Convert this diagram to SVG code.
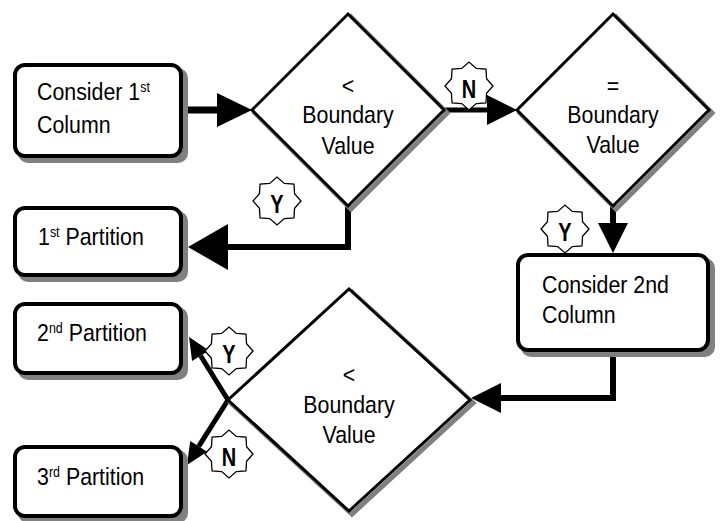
<svg xmlns="http://www.w3.org/2000/svg" xmlns:xlink="http://www.w3.org/1999/xlink" width="722" height="521" viewBox="0 0 722 521">
  <style>
    .box { fill: #fff; stroke: #000; stroke-width: 4; }
    .bshadow { fill: #808080; stroke: none; }
    .dia { fill: #fff; stroke: #000; stroke-width: 3; stroke-linejoin: miter; }
    .dshadow { fill: none; stroke: #808080; stroke-width: 5; }
    .t { font-family: "Liberation Sans", Arial, sans-serif; font-size: 24px; fill: #000; }
    .c { text-anchor: middle; }
    .sup { font-size: 14px; }
    .star { fill: #fff; stroke: #000; stroke-width: 1.3; }
    .sl { font-family: "Liberation Sans", Arial, sans-serif; font-size: 25px; font-weight: bold; text-anchor: middle; fill: #000; }
    .conn { fill: none; stroke: #000; stroke-linejoin: miter; }
  </style>
  <defs>
    <marker id="ab1" markerUnits="userSpaceOnUse" orient="auto" refX="0" refY="0" markerWidth="40" markerHeight="40" overflow="visible">
      <path d="M0,-17 L35,0 L0,17 Z" fill="#000"/>
    </marker>
    <marker id="ab2" markerUnits="userSpaceOnUse" orient="auto" refX="0" refY="0" markerWidth="44" markerHeight="50" overflow="visible">
      <path d="M0,-23 L40,0 L0,23 Z" fill="#000"/>
    </marker>
    <marker id="am" markerUnits="userSpaceOnUse" orient="auto" refX="0" refY="0" markerWidth="32" markerHeight="32" overflow="visible">
      <path d="M0,-15 L30,0 L0,15 Z" fill="#000"/>
    </marker>
    <marker id="as" markerUnits="userSpaceOnUse" orient="auto" refX="0" refY="0" markerWidth="24" markerHeight="24" overflow="visible">
      <path d="M0,-10 L22,0 L0,10 Z" fill="#000"/>
    </marker>
    <path id="star" d="M24,0 L17.55,7.27 L16.97,16.97 L7.27,17.55 L0,24 L-7.27,17.55 L-16.97,16.97 L-17.55,7.27 L-24,0 L-17.55,-7.27 L-16.97,-16.97 L-7.27,-17.55 L0,-24 L7.27,-17.55 L16.97,-16.97 L17.55,-7.27 Z"/>
  </defs>

  <!-- connectors -->
  <g id="connectors">
    <path class="conn" d="M183,110 H217" stroke-width="7" marker-end="url(#ab1)"/>
    <path class="conn" d="M445,110 H487" stroke-width="5" marker-end="url(#am)"/>
    <path class="conn" d="M348,206 V247 H228" stroke-width="6" marker-end="url(#ab2)"/>
    <path class="conn" d="M613,206 V223" stroke-width="6" marker-end="url(#am)"/>
    <path class="conn" d="M613,352 V398 H501" stroke-width="6" marker-end="url(#am)"/>
    <path class="conn" d="M228,400 L200.6,355.7" stroke-width="5" marker-end="url(#as)"/>
    <path class="conn" d="M228,400 L198.7,446.4" stroke-width="5" marker-end="url(#as)"/>
  </g>

  <!-- boxes -->
  <g id="consider1">
    <rect class="bshadow" x="18" y="68" width="170" height="95" rx="10"/>
    <rect class="box" x="15" y="65" width="166" height="91" rx="10"/>
    <text class="t" transform="translate(37,100) scale(0.89,1)">Consider 1<tspan class="sup" dy="-8">st</tspan></text>
    <text class="t" transform="translate(37,133) scale(0.89,1)">Column</text>
  </g>

  <g id="part1">
    <rect class="bshadow" x="18" y="211" width="170" height="71" rx="10"/>
    <rect class="box" x="15" y="208" width="166" height="67" rx="10"/>
    <text class="t" transform="translate(38,245) scale(0.89,1)">1<tspan class="sup" dy="-8">st</tspan><tspan dy="8"> Partition</tspan></text>
  </g>

  <g id="part2">
    <rect class="bshadow" x="18" y="307" width="170" height="73" rx="10"/>
    <rect class="box" x="15" y="304" width="166" height="69" rx="10"/>
    <text class="t" transform="translate(37,341) scale(0.89,1)">2<tspan class="sup" dy="-8">nd</tspan><tspan dy="8"> Partition</tspan></text>
  </g>

  <g id="part3">
    <rect class="bshadow" x="18" y="450" width="170" height="73" rx="10"/>
    <rect class="box" x="15" y="447" width="166" height="69" rx="10"/>
    <text class="t" transform="translate(37,485) scale(0.89,1)">3<tspan class="sup" dy="-8">rd</tspan><tspan dy="8"> Partition</tspan></text>
  </g>

  <g id="consider2">
    <rect class="bshadow" x="521" y="258" width="194" height="99" rx="10"/>
    <rect class="box" x="518" y="255" width="190" height="95" rx="10"/>
    <text class="t" transform="translate(542,293) scale(0.89,1)">Consider 2nd</text>
    <text class="t" transform="translate(542,323) scale(0.89,1)">Column</text>
  </g>

  <!-- diamonds -->
  <g id="decision1">
    <polygon class="dshadow" points="351,17 447,113 351,209 255,113"/>
    <polygon class="dia" points="348,14 444,110 348,206 252,110"/>
    <text class="t c" transform="translate(348,94) scale(0.89,1)">&lt;</text>
    <text class="t c" transform="translate(348,123) scale(0.89,1)">Boundary</text>
    <text class="t c" transform="translate(348,154) scale(0.89,1)">Value</text>
  </g>

  <g id="decision2">
    <polygon class="dshadow" points="616,17 712,113 616,209 520,113"/>
    <polygon class="dia" points="613,14 709,110 613,206 517,110"/>
    <text class="t c" transform="translate(613,94) scale(0.89,1)">=</text>
    <text class="t c" transform="translate(613,123) scale(0.89,1)">Boundary</text>
    <text class="t c" transform="translate(613,153) scale(0.89,1)">Value</text>
  </g>

  <g id="decision3">
    <polygon class="dshadow" points="352,292 473,403 352,514 231,403"/>
    <polygon class="dia" points="349,289 470,400 349,511 228,400"/>
    <text class="t c" transform="translate(349,383) scale(0.89,1)">&lt;</text>
    <text class="t c" transform="translate(349,413) scale(0.89,1)">Boundary</text>
    <text class="t c" transform="translate(349,443) scale(0.89,1)">Value</text>
  </g>

  <!-- labels -->
  <g id="label-n1">
    <use xlink:href="#star" href="#star" class="star" x="469" y="86"/>
    <text class="sl" transform="translate(469,98) scale(0.8,1)">N</text>
  </g>
  <g id="label-y1">
    <use xlink:href="#star" href="#star" class="star" x="277" y="201"/>
    <text class="sl" transform="translate(277,213) scale(0.8,1)">Y</text>
  </g>
  <g id="label-y2">
    <use xlink:href="#star" href="#star" class="star" x="565" y="229"/>
    <text class="sl" transform="translate(565,241) scale(0.8,1)">Y</text>
  </g>
  <g id="label-y3">
    <use xlink:href="#star" href="#star" class="star" x="229" y="351"/>
    <text class="sl" transform="translate(229,363) scale(0.8,1)">Y</text>
  </g>
  <g id="label-n3">
    <use xlink:href="#star" href="#star" class="star" x="229" y="454"/>
    <text class="sl" transform="translate(229,466) scale(0.8,1)">N</text>
  </g>
</svg>
